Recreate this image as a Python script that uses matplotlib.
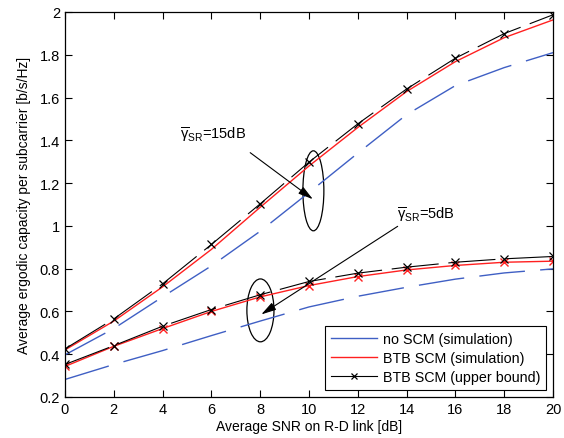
import matplotlib
matplotlib.use("Agg")
import matplotlib.pyplot as plt
from matplotlib.patches import Ellipse
from matplotlib.lines import Line2D

plt.rcParams['font.family'] = ['Liberation Sans', 'DejaVu Sans']
plt.rcParams['mathtext.fontset'] = 'custom'
plt.rcParams['mathtext.rm'] = 'Liberation Sans'
plt.rcParams['mathtext.it'] = 'Liberation Sans'
plt.rcParams['mathtext.bf'] = 'Liberation Sans:bold'
plt.rcParams['lines.scale_dashes'] = False

snr = [0, 2, 4, 6, 8, 10, 12, 14, 16, 18, 20]

blue15 = [0.397, 0.52, 0.668, 0.813, 0.975, 1.156, 1.34, 1.52, 1.656, 1.74, 1.81]
red15 = [0.42, 0.555, 0.715, 0.89, 1.087, 1.28, 1.46, 1.628, 1.768, 1.88, 1.963]
black15 = [0.425, 0.565, 0.729, 0.913, 1.103, 1.298, 1.477, 1.64, 1.784, 1.899, 1.987]

blue5 = [0.282, 0.352, 0.417, 0.487, 0.555, 0.621, 0.671, 0.713, 0.751, 0.78, 0.799]
red5 = [0.343, 0.437, 0.52, 0.60, 0.668, 0.721, 0.763, 0.794, 0.815, 0.830, 0.835]
black5 = [0.352, 0.44, 0.531, 0.609, 0.678, 0.74, 0.779, 0.807, 0.830, 0.846, 0.857]

xticks = [0, 2, 4, 6, 8, 10, 12, 14, 16, 18, 20]
yticks = [0.2, 0.4, 0.6, 0.8, 1.0, 1.2, 1.4, 1.6, 1.8, 2.0]
ytick_labels = ['0.2', '0.4', '0.6', '0.8', '1', '1.2', '1.4', '1.6', '1.8', '2']

legend_labels = ['no SCM (simulation)', 'BTB SCM (simulation)', 'BTB SCM (upper bound)']

BLUE = '#3f5fc4'
RED = '#ff2020'

fig = plt.figure(figsize=(5.64, 4.39), dpi=100)
ax = fig.add_axes([0.1152, 0.0934, 0.8653, 0.877])

blue_dash = (0, (33, 11))
black_dash = (0, (34, 7))

for b in (blue15, blue5):
    ax.plot(snr, b, color=BLUE, lw=1.0, linestyle=blue_dash)
ax.plot(snr, red15, color=RED, lw=1.0)
ax.plot(snr, red5, color=RED, lw=1.0, marker='x', ms=6, mew=1.0)
for k in (black15, black5):
    ax.plot(snr, k, color='black', lw=0.8, linestyle=black_dash, marker='x', ms=6, mew=0.9)

ax.set_xlim(0, 20)
ax.set_ylim(0.2, 2.0)
ax.set_xticks(xticks)
ax.set_yticks(yticks)
ax.set_yticklabels(ytick_labels)
ax.tick_params(direction='in', top=True, right=True, length=5, labelsize=10.5, width=0.8)
for s in ax.spines.values():
    s.set_linewidth(0.9)

ax.set_xlabel('Average SNR on R-D link [dB]', fontsize=10, labelpad=2)
ax.set_ylabel('Average ergodic capacity per subcarrier [b/s/Hz]', fontsize=10, labelpad=6)

# annotations
ax.text(4.71, 1.43, r'$\overline{\gamma}_{\mathrm{SR}}$=15dB', fontsize=10.5, va='center', ha='left')
ax.annotate('', xy=(10.25, 1.117), xytext=(7.5, 1.35),
            arrowprops=dict(arrowstyle='-|>,head_length=0.9,head_width=0.25', color='black', lw=0.8))
ax.add_patch(Ellipse((10.18, 1.164), 0.86, 0.374, fill=False, edgecolor='black', lw=0.9))

ax.text(13.6, 1.056, r'$\overline{\gamma}_{\mathrm{SR}}$=5dB', fontsize=10.5, va='center', ha='left')
ax.annotate('', xy=(7.95, 0.579), xytext=(13.73, 1.005),
            arrowprops=dict(arrowstyle='-|>,head_length=0.9,head_width=0.25', color='black', lw=0.8))
ax.add_patch(Ellipse((8.01, 0.605), 1.11, 0.294, fill=False, edgecolor='black', lw=0.9))

handles = [Line2D([], [], color=BLUE, lw=1.0),
           Line2D([], [], color=RED, lw=1.0),
           Line2D([], [], color='black', lw=0.8, marker='x', ms=5, mew=0.9)]
leg = ax.legend(handles, legend_labels, loc='lower right', fontsize=10.3, frameon=True,
                fancybox=False, edgecolor='black', framealpha=1, handlelength=3.2,
                borderaxespad=0.5, borderpad=0.4, labelspacing=0.35, handletextpad=0.4)
leg.get_frame().set_linewidth(0.8)

fig.savefig('out.png', dpi=100)
